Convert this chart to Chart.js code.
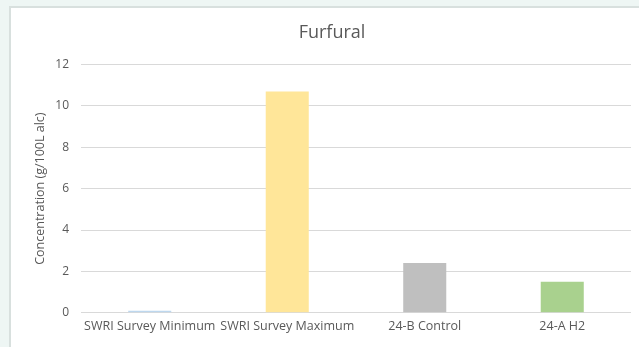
<!DOCTYPE html>
<html>
<head>
<meta charset="utf-8">
<script src="https://cdn.jsdelivr.net/npm/chart.js@4"></script>
<style>
  html, body { margin: 0; padding: 0; background: #eef6f4; }
  #wrap { position: relative; width: 639px; height: 347px; overflow: hidden; }
  #panel { position: absolute; left: 9px; top: 6px; width: 660px; height: 360px;
           background: #ffffff; border: 2px solid #d8e0de; box-sizing: border-box; }
  #c { position: absolute; left: 0; top: 0; }
</style>
</head>
<body>
<div id="wrap">
  <div id="panel"></div>
  <canvas id="c" width="639" height="347"></canvas>
</div>
<script>
const categories = ["SWRI Survey Minimum", "SWRI Survey Maximum", "24-B Control", "24-A H2"];
const furfural = [0.1, 10.7, 2.4, 1.5];
const barColors = ["#bdd7ee", "#ffe699", "#bfbfbf", "#a9d18e"];
const yTicks = [0, 2, 4, 6, 8, 10, 12];

const FONT = "'Open Sans', 'Liberation Sans', sans-serif";
const TEXT = "#595959";

new Chart(document.getElementById("c"), {
  type: "bar",
  data: {
    labels: categories,
    datasets: [{
      data: furfural,
      backgroundColor: barColors,
      borderWidth: 0,
      barPercentage: 0.313,
      categoryPercentage: 1.0
    }]
  },
  options: {
    responsive: false,
    animation: false,
    devicePixelRatio: 1,
    layout: { padding: { left: 33, right: 8, top: 0, bottom: 0 } },
    plugins: {
      legend: { display: false },
      tooltip: { enabled: false },
      title: {
        display: true,
        text: "Furfural",
        color: TEXT,
        font: { family: FONT, size: 18, weight: "normal" },
        padding: { top: 22, bottom: 21 }
      }
    },
    scales: {
      x: {
        grid: { display: false, drawTicks: false },
        border: { display: false },
        ticks: {
          color: TEXT,
          font: { family: FONT, size: 12.5 },
          maxRotation: 0,
          autoSkip: false,
          padding: 6
        },
        afterFit: (s) => { s.height = 347 - 312.7; }
      },
      y: {
        min: 0,
        max: 12,
        afterBuildTicks: (s) => { s.ticks = yTicks.map(v => ({ value: v })); },
        grid: { color: "#d9d9d9", lineWidth: 1, drawTicks: false },
        border: { display: false },
        ticks: {
          color: TEXT,
          font: { family: FONT, size: 12 },
          padding: 12
        },
        title: {
          display: true,
          text: "Concentration (g/100L alc)",
          color: TEXT,
          font: { family: FONT, size: 12.5 },
          padding: { top: 0, bottom: 6 }
        },
        afterFit: (s) => { s.width = 81 - 33; }
      }
    }
  }
});
</script>
</body>
</html>
